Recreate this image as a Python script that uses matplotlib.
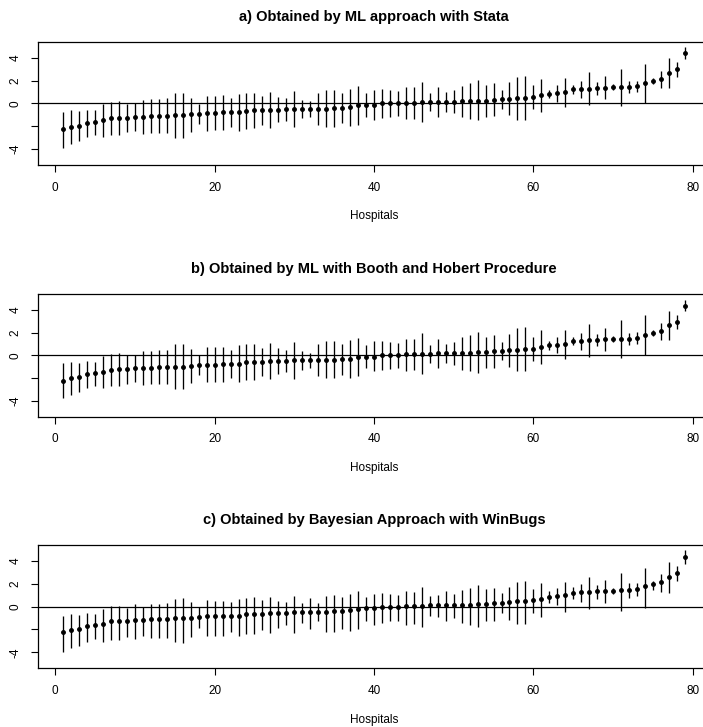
import numpy as np
import matplotlib
matplotlib.use("Agg")
import matplotlib.pyplot as plt

plt.rcParams["font.family"] = ["Liberation Sans", "DejaVu Sans"]

hospitals = np.arange(1, 80)

titles = [
    "a) Obtained by ML approach with Stata",
    "b) Obtained by ML with Booth and Hobert Procedure",
    "c) Obtained by Bayesian Approach with WinBugs",
]

# a) ML / Stata
est_a = [-2.29, -2.09, -2.00, -1.73, -1.64, -1.47, -1.29, -1.26, -1.26, -1.17, -1.17, -1.12, -1.09, -1.09, -1.06,
         -1.06, -0.97, -0.94, -0.85, -0.85, -0.79, -0.79, -0.76, -0.65, -0.62,
         -0.62, -0.56, -0.56, -0.53, -0.50, -0.50, -0.50, -0.50, -0.47, -0.44, -0.41, -0.35, -0.18, -0.18,
         -0.15, 0.00, 0.00, 0.00, 0.06, 0.06, 0.12, 0.12, 0.15, 0.15, 0.15, 0.18, 0.21, 0.23,
         0.23, 0.29, 0.35, 0.41, 0.47, 0.50, 0.56, 0.70, 0.85, 0.88, 0.97, 1.23, 1.23, 1.29, 1.32,
         1.38, 1.41, 1.41, 1.44, 1.53, 1.76, 2.00, 2.11, 2.67, 2.97, 4.38]
hi_a = [-0.73, -0.62, -0.68, -0.56, -0.62, -0.06, 0.12, 0.18, -0.06, 0.00, 0.29, 0.38, 0.38, 0.44, 0.88,
        0.94, 0.50, -0.06, 0.65, 0.65, 0.70, 0.47, 0.82, 0.94, 0.94,
        0.65, 1.00, 0.56, 0.44, 1.12, 0.29, 0.21, 0.91, 1.15, 1.17, 0.91, 1.29, 1.50, 0.88,
        1.17, 1.26, 1.15, 1.09, 1.47, 1.41, 1.88, 0.91, 1.44, 1.03, 1.17, 1.56, 1.76, 2.06,
        1.62, 1.76, 1.15, 1.85, 2.35, 2.41, 1.62, 2.17, 1.17, 1.59, 2.26, 1.62, 1.97, 2.73, 1.91,
        2.38, 1.67, 3.05, 2.00, 2.00, 3.49, 2.23, 2.82, 3.99, 3.58, 4.93]
lo_a = [-3.88, -3.52, -3.29, -2.97, -2.73, -2.94, -2.76, -2.73, -2.53, -2.41, -2.67, -2.61, -2.58, -2.58, -3.00,
        -3.00, -2.47, -1.79, -2.38, -2.32, -2.32, -2.09, -2.38, -2.23, -2.20,
        -1.91, -2.14, -1.67, -1.53, -2.11, -1.29, -1.17, -1.88, -2.06, -2.06, -1.73, -1.97, -1.88, -1.17,
        -1.47, -1.32, -1.23, -1.12, -1.38, -1.35, -1.64, -0.68, -1.17, -0.73, -0.88, -1.23, -1.38, -1.47,
        -1.17, -1.12, -0.50, -1.00, -1.44, -1.44, -0.53, -0.76, 0.44, 0.15, -0.32, 0.85, 0.44, -0.15, 0.76,
        0.38, 1.15, -0.26, 0.88, 0.97, 0.03, 1.70, 1.38, 1.38, 2.35, 3.85]

# b) ML / Booth and Hobert
est_b = [-2.23, -2.00, -1.91, -1.68, -1.59, -1.45, -1.25, -1.22, -1.22, -1.13, -1.13, -1.07, -1.04, -1.04, -1.01,
         -1.01, -0.93, -0.87, -0.81, -0.81, -0.75, -0.75, -0.72, -0.61, -0.55,
         -0.55, -0.49, -0.49, -0.46, -0.43, -0.43, -0.43, -0.43, -0.41, -0.38, -0.35, -0.29, -0.14, -0.14,
         -0.12, 0.03, 0.03, 0.03, 0.09, 0.09, 0.14, 0.14, 0.17, 0.17, 0.17, 0.20, 0.23, 0.26,
         0.29, 0.35, 0.38, 0.43, 0.49, 0.52, 0.58, 0.75, 0.87, 0.93, 1.01, 1.25, 1.28, 1.33, 1.36,
         1.42, 1.42, 1.45, 1.48, 1.57, 1.77, 2.00, 2.12, 2.70, 2.96, 4.38]
hi_b = [-0.70, -0.58, -0.67, -0.49, -0.58, -0.03, 0.14, 0.20, 0.00, 0.06, 0.38, 0.41, 0.43, 0.49, 0.99,
        1.01, 0.55, 0.00, 0.70, 0.70, 0.75, 0.49, 0.87, 0.96, 0.96,
        0.67, 1.07, 0.61, 0.46, 1.16, 0.35, 0.23, 0.96, 1.22, 1.25, 0.96, 1.33, 1.57, 0.90,
        1.22, 1.28, 1.19, 1.10, 1.48, 1.42, 1.94, 0.90, 1.45, 1.01, 1.19, 1.59, 1.80, 2.09,
        1.65, 1.77, 1.16, 1.88, 2.41, 2.46, 1.62, 2.20, 1.22, 1.59, 2.26, 1.62, 1.99, 2.75, 1.88,
        2.38, 1.68, 3.07, 1.97, 2.03, 3.54, 2.26, 2.81, 3.94, 3.57, 4.90]
lo_b = [-3.77, -3.48, -3.25, -2.90, -2.67, -2.90, -2.72, -2.70, -2.49, -2.35, -2.64, -2.55, -2.55, -2.55, -2.99,
        -2.99, -2.43, -1.71, -2.38, -2.32, -2.32, -2.03, -2.38, -2.20, -2.17,
        -1.86, -2.12, -1.65, -1.48, -2.09, -1.25, -1.13, -1.83, -2.03, -2.03, -1.71, -1.97, -1.86, -1.13,
        -1.42, -1.28, -1.16, -1.07, -1.36, -1.33, -1.65, -0.64, -1.13, -0.70, -0.84, -1.25, -1.36, -1.51,
        -1.13, -1.07, -0.43, -0.99, -1.42, -1.42, -0.49, -0.75, 0.46, 0.20, -0.29, 0.87, 0.49, -0.12, 0.78,
        0.41, 1.16, -0.20, 0.93, 1.01, 0.03, 1.68, 1.39, 1.39, 2.35, 3.86]

# c) Bayesian / WinBugs
est_c = [-2.26, -2.03, -1.94, -1.71, -1.62, -1.48, -1.28, -1.22, -1.22, -1.13, -1.13, -1.07, -1.07, -1.07, -1.01,
         -1.01, -0.96, -0.87, -0.84, -0.81, -0.78, -0.78, -0.78, -0.64, -0.61,
         -0.61, -0.58, -0.55, -0.55, -0.49, -0.46, -0.46, -0.46, -0.46, -0.41, -0.38, -0.32, -0.17, -0.14,
         -0.14, -0.03, -0.03, 0.00, 0.03, 0.03, 0.09, 0.12, 0.12, 0.12, 0.12, 0.12, 0.17, 0.23,
         0.23, 0.32, 0.35, 0.43, 0.49, 0.52, 0.55, 0.70, 0.84, 0.90, 0.99, 1.22, 1.25, 1.30, 1.33,
         1.36, 1.39, 1.42, 1.42, 1.51, 1.77, 1.97, 2.12, 2.64, 2.93, 4.35]
hi_c = [-0.78, -0.67, -0.70, -0.55, -0.64, -0.20, 0.03, 0.06, -0.12, 0.23, 0.00, 0.23, 0.26, 0.29, 0.67,
        0.72, 0.38, 0.00, 0.55, 0.52, 0.52, 0.41, 0.70, 0.78, 0.81,
        0.55, 0.84, 0.52, 0.38, 0.96, 0.32, 0.78, 0.32, 0.96, 1.04, 0.81, 1.13, 1.33, 0.81,
        1.07, 1.16, 1.07, 1.01, 1.36, 1.28, 1.68, 0.90, 0.99, 1.36, 1.10, 1.45, 1.65, 1.88,
        1.51, 1.59, 1.16, 1.68, 2.14, 2.26, 1.51, 2.06, 1.33, 1.59, 2.14, 1.71, 2.00, 2.64, 1.94,
        2.32, 1.65, 2.96, 2.03, 2.03, 3.39, 2.29, 2.87, 3.91, 3.59, 4.99]
lo_c = [-4.00, -3.65, -3.42, -3.10, -2.84, -3.07, -2.90, -2.90, -2.67, -2.84, -2.55, -2.78, -2.75, -2.78, -3.13,
        -3.19, -2.64, -1.91, -2.55, -2.55, -2.55, -2.23, -2.55, -2.43, -2.41,
        -2.03, -2.35, -1.83, -1.65, -2.35, -1.42, -2.00, -1.30, -2.26, -2.20, -1.94, -2.12, -2.00, -1.28,
        -1.62, -1.45, -1.28, -1.22, -1.59, -1.51, -1.80, -0.78, -0.87, -1.30, -0.99, -1.42, -1.57, -1.74,
        -1.28, -1.25, -0.58, -1.13, -1.54, -1.54, -0.52, -0.93, 0.32, 0.14, -0.43, 0.70, 0.38, -0.23, 0.70,
        0.35, 1.07, -0.35, 0.78, 0.90, -0.14, 1.45, 1.25, 1.22, 2.23, 3.77]

paneles = [(est_a, lo_a, hi_a), (est_b, lo_b, hi_b), (est_c, lo_c, hi_c)]

x_ticks = [0, 20, 40, 60, 80]
y_ticks = [-4, -2, 0, 2, 4]
y_labels = ["-4", "", "0", "2", "4"]

W, H = 703, 727
fig = plt.figure(figsize=(W / 100, H / 100), dpi=100)

# caja de cada panel en pixeles (arriba, abajo); la derecha queda fuera de la imagen
cajas = [(41.7, 165.0), (294.0, 416.7), (545.0, 668.3)]
izq, ancho = 38.3, 671.4

for (est, lo, hi), titulo, (top, bot) in zip(paneles, titles, cajas):
    ax = fig.add_axes([izq / W, 1 - bot / H, ancho / W, (bot - top) / H])
    ax.axhline(0, color="black", lw=0.9, zorder=1)
    ax.vlines(hospitals, lo, hi, color="black", lw=0.95, zorder=2)
    ax.plot(hospitals, est, "o", color="black", ms=2.5, zorder=3)

    ax.set_xlim(-2.12, 82.12)
    ax.set_ylim(-5.4, 5.4)
    ax.set_xticks(x_ticks)
    ax.set_yticks(y_ticks)
    ax.set_yticklabels(y_labels, rotation=90, va="center")
    ax.tick_params(direction="out", length=5, width=0.8, labelsize=8.5, pad=7)
    for s in ax.spines.values():
        s.set_linewidth(0.9)

    ax.set_title(titulo, fontsize=10.5, fontweight="bold", pad=15)
    ax.set_xlabel("Hospitals", fontsize=8.5, labelpad=12)

fig.savefig("out.png", dpi=100)
